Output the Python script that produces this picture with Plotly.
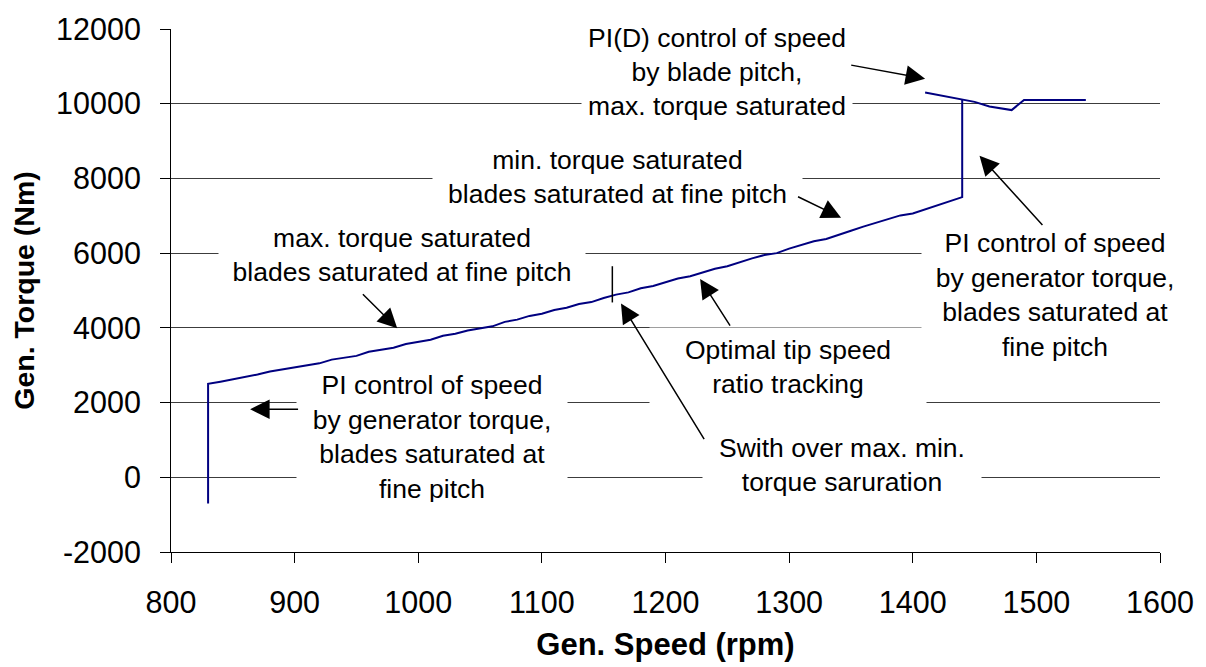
import plotly.graph_objects as go

# Generator speed (rpm) and torque (Nm) along the operating trajectory
ramp_speed = [830, 830, 840, 850, 860, 870, 880, 890, 900, 910, 920, 930, 940, 950,
              960, 970, 980, 990, 1000, 1010, 1020, 1030, 1040, 1050, 1060, 1070,
              1080, 1090, 1100, 1110, 1120, 1130, 1140, 1150, 1160, 1170, 1180,
              1190, 1200, 1210, 1220, 1230, 1240, 1250, 1260, 1270, 1280, 1290,
              1300, 1310, 1320, 1330, 1340, 1350, 1360, 1370, 1380, 1390, 1400,
              1410, 1420, 1430, 1440, 1440]
ramp_torque = [-700, 2500, 2560, 2620, 2690, 2750, 2830, 2880, 2930, 2990, 3050,
               3150, 3200, 3250, 3360, 3410, 3470, 3570, 3620, 3680, 3790, 3840,
               3930, 3990, 4040, 4160, 4220, 4320, 4380, 4480, 4540, 4640, 4690,
               4800, 4890, 4950, 5060, 5120, 5220, 5320, 5380, 5490, 5580, 5650,
               5760, 5860, 5950, 6000, 6120, 6220, 6320, 6380, 6500, 6600, 6710,
               6810, 6910, 7010, 7060, 7170, 7280, 7390, 7500, 10100]

# Pitch-controlled region at rated torque
pitch_speed = [1410, 1450, 1462, 1480, 1490, 1540]
pitch_torque = [10300, 10050, 9925, 9830, 10100, 10100]

# Marker for the switch between max. and min. torque saturation
switch_speed = [1157, 1157]
switch_torque = [4680, 5650]

x_ticks = [800, 900, 1000, 1100, 1200, 1300, 1400, 1500, 1600]
y_ticks = [-2000, 0, 2000, 4000, 6000, 8000, 10000, 12000]
y_tick_text = ["-2000", "0", "2000", "4000", "6000", "8000", "10000", "12000"]

FONT = "Liberation Sans, Arial, sans-serif"
LINE_COLOR = "#000080"

fig = go.Figure()
fig.add_trace(go.Scatter(x=ramp_speed, y=ramp_torque, mode="lines",
                         line=dict(color=LINE_COLOR, width=2), showlegend=False))
fig.add_trace(go.Scatter(x=pitch_speed, y=pitch_torque, mode="lines",
                         line=dict(color=LINE_COLOR, width=2), showlegend=False))
fig.add_trace(go.Scatter(x=switch_speed, y=switch_torque, mode="lines",
                         line=dict(color="black", width=1.5), showlegend=False))

# Text boxes: (text, x, y, width px, height px)
labels = [
    ("PI(D) control of speed<br>by blade pitch,<br>max. torque saturated", 1242, 10860, 268, 100),
    ("min. torque saturated<br>blades saturated at fine pitch", 1161, 8030, 367, 76),
    ("max. torque saturated<br>blades saturated at fine pitch", 987, 5960, 364, 76),
    ("PI control of speed<br>by generator torque,<br>blades saturated at<br>fine pitch", 1011, 1066, 268, 130),
    ("PI control of speed<br>by generator torque,<br>blades saturated at<br>fine pitch", 1515, 4890, 264, 140),
    ("Optimal tip speed<br>ratio tracking", 1299, 2960, 274, 76),
    ("Swith over max. min.<br>torque saruration", 1343, 340, 276, 80),
]

# Arrows: (tail speed, tail torque, tip speed, tip torque)
arrows = [
    (1349, 11040, 1410, 10670),
    (1306, 7530, 1342, 6950),
    (954, 4940, 983, 3990),
    (904, 1820, 864, 1820),
    (1506, 6710, 1454, 8610),
    (1253, 4020, 1228, 5310),
    (1232, 980, 1164, 4650),
]

annotations = []
for text, x, y, w, h in labels:
    annotations.append(dict(
        text=text, x=x, y=y, xref="x", yref="y", showarrow=False,
        width=w, height=h, bgcolor="white", align="center", valign="middle",
        font=dict(family=FONT, size=26.5, color="black"),
    ))
for ax, ay, x, y in arrows:
    annotations.append(dict(
        text="", x=x, y=y, ax=ax, ay=ay, xref="x", yref="y", axref="x", ayref="y",
        showarrow=True, arrowhead=2, arrowsize=2.6, arrowwidth=1.5,
        arrowcolor="black", standoff=0, startstandoff=0,
    ))

fig.update_layout(
    width=1206, height=667,
    margin=dict(l=171, r=43, t=24, b=113),
    paper_bgcolor="white", plot_bgcolor="white",
    font=dict(family=FONT, color="black"),
    annotations=annotations,
    xaxis=dict(
        range=[800, 1600], tickvals=x_ticks, ticks="outside", ticklen=10,
        tickcolor="black", showline=True, linecolor="black", linewidth=1,
        showgrid=False, zeroline=False, tickfont=dict(size=30.5),
        ticklabelstandoff=13,
        title=dict(text="<b>Gen. Speed (rpm)</b>", font=dict(size=31), standoff=15),
    ),
    yaxis=dict(
        range=[-2000, 12000], tickvals=y_ticks, ticktext=y_tick_text,
        ticks="outside", ticklen=10,
        tickcolor="black", showline=True, linecolor="black", linewidth=1,
        showgrid=True, gridcolor="#3c3c3c", gridwidth=1, zeroline=False,
        tickfont=dict(size=30.5), ticklabelstandoff=13,
        title=dict(text="<b>Gen. Torque (Nm)</b>", font=dict(size=28.5), standoff=13),
    ),
)

fig.write_html("out.html")
